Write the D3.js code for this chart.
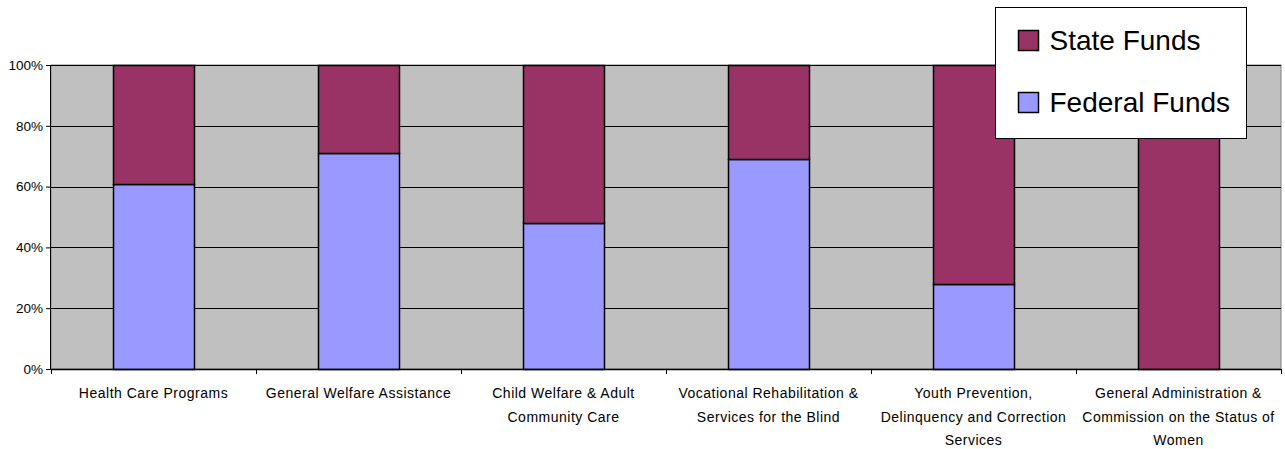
<!DOCTYPE html>
<html>
<head>
<meta charset="utf-8">
<script src="https://cdn.jsdelivr.net/npm/d3@7"></script>
<style>
  html, body { margin: 0; padding: 0; background: #fff; }
  svg { display: block; font-family: "Liberation Sans", Arial, sans-serif; }
</style>
</head>
<body>
<svg id="chart" width="1285" height="449"></svg>
<script>
// Share of funding by program area (percent)
const categories = [
  ["Health Care Programs"],
  ["General Welfare Assistance"],
  ["Child Welfare & Adult", "Community Care"],
  ["Vocational Rehabilitation &", "Services for the Blind"],
  ["Youth Prevention,", "Delinquency and Correction", "Services"],
  ["General Administration &", "Commission on the Status of", "Women"]
];
const federalFunds = [61, 71, 48, 69, 28, 0];
const stateFunds = [39, 29, 52, 31, 72, 100];
const yTicks = [0, 20, 40, 60, 80, 100];
const seriesNames = ["State Funds", "Federal Funds"];
const seriesColors = ["#993366", "#9999FF"];

const svg = d3.select("#chart");
const margin = { left: 51, right: 4, top: 65, bottom: 80 };
const W = 1285, H = 449;
const plotW = W - margin.left - margin.right;
const plotH = H - margin.top - margin.bottom;

const x = d3.scaleBand()
  .domain(d3.range(categories.length))
  .range([0, plotW])
  .paddingInner(0.605)
  .paddingOuter(0.3025);
const xBand = d3.scaleBand().domain(d3.range(categories.length)).range([0, plotW]);
const y = d3.scaleLinear().domain([0, 100]).range([plotH, 0]);

const g = svg.append("g").attr("transform", `translate(${margin.left},${margin.top})`);

// plot background
g.append("rect")
  .attr("width", plotW).attr("height", plotH)
  .attr("fill", "#C0C0C0").attr("stroke", "#808080").attr("stroke-width", 1);

// gridlines
g.selectAll("line.grid").data(yTicks.filter(t => t > 0))
  .join("line").attr("class", "grid")
  .attr("x1", 0).attr("x2", plotW)
  .attr("y1", d => Math.round(y(d)) + 0.5).attr("y2", d => Math.round(y(d)) + 0.5)
  .attr("stroke", "#000").attr("stroke-width", 1);

// stacked bars
const stackData = categories.map((c, i) => ({ i, federal: federalFunds[i], state: stateFunds[i] }));
const stack = d3.stack().keys(["federal", "state"])(stackData);
const colorByKey = { federal: seriesColors[1], state: seriesColors[0] };

stack.forEach(layer => {
  g.selectAll(null).data(layer.filter(d => d[1] - d[0] > 0))
    .join("rect")
    .attr("x", d => Math.round(x(d.data.i)) + 0.5)
    .attr("width", Math.round(x.bandwidth()))
    .attr("y", d => Math.round(y(d[1])) + 0.5)
    .attr("height", d => Math.round(y(d[0])) - Math.round(y(d[1])))
    .attr("fill", colorByKey[layer.key])
    .attr("stroke", "#000").attr("stroke-width", 1.5);
});

// y axis
const yAxis = g.append("g")
  .call(d3.axisLeft(y).tickValues(yTicks).tickFormat(d => d + "%").tickSize(5).tickPadding(3));
yAxis.select(".domain").attr("stroke", "#000").attr("d", `M-0.5,${plotH}V0`);
yAxis.selectAll(".tick line").attr("stroke", "#000");
yAxis.selectAll(".tick text").attr("font-size", 13.5).attr("fill", "#000")
  .attr("font-family", "Liberation Sans, Arial, sans-serif");

// x axis with category boundary ticks
const xAxisG = g.append("g").attr("transform", `translate(0,${plotH})`);
xAxisG.append("line").attr("x1", 0).attr("x2", plotW).attr("y1", 0.5).attr("y2", 0.5)
  .attr("stroke", "#000").attr("stroke-width", 1.5);
const boundaries = d3.range(categories.length + 1).map(i => i === categories.length ? plotW : xBand(i));
xAxisG.selectAll("line.tick").data(boundaries).join("line")
  .attr("x1", d => Math.round(d) + 0.5).attr("x2", d => Math.round(d) + 0.5)
  .attr("y1", 0).attr("y2", 5).attr("stroke", "#000");

// category labels
const labels = xAxisG.selectAll("text.cat").data(categories).join("text")
  .attr("class", "cat")
  .attr("text-anchor", "middle")
  .attr("font-size", 14)
  .attr("letter-spacing", 0.5)
  .attr("fill", "#000")
  .attr("transform", (d, i) => `translate(${xBand(i) + xBand.bandwidth() / 2},29)`);
labels.selectAll("tspan").data(d => d).join("tspan")
  .attr("x", 0)
  .attr("y", (d, j) => j * 23.5)
  .text(d => d);

// legend
const legend = svg.append("g").attr("transform", "translate(995.5,7.5)");
legend.append("rect").attr("width", 251).attr("height", 131)
  .attr("fill", "#fff").attr("stroke", "#000").attr("stroke-width", 1);
seriesNames.forEach((name, i) => {
  const row = legend.append("g").attr("transform", `translate(23,${23 + i * 62})`);
  row.append("rect").attr("width", 20).attr("height", 20)
    .attr("fill", seriesColors[i]).attr("stroke", "#000").attr("stroke-width", 1.5);
  row.append("text").attr("x", 31).attr("y", 19)
    .attr("font-size", 28).attr("fill", "#000").attr("textLength", null).text(name);
});
</script>
</body>
</html>
